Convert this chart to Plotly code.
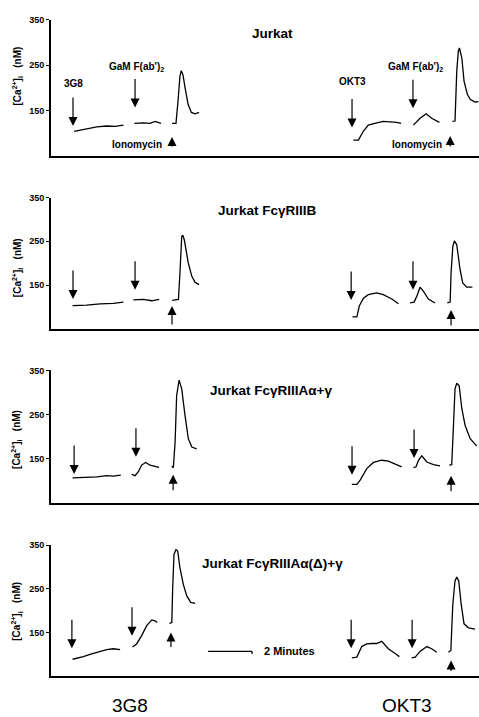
import plotly.graph_objects as go

# ---------------- data: time (min) and [Ca2+]i (nM); None separates recordings ----
N = None
p1_t = [1.05, 1.62, 2.08, 2.53, 2.91, 3.29, N,
        3.79, 4.20, 4.50, 4.73, 5.00, N,
        5.50, 5.68, 5.77, 5.86, 5.92, 6.00, 6.09, 6.23, 6.38, 6.55, 6.73, N,
        13.74, 13.97, 14.20, 14.42, 14.80, 15.10, 15.71, 15.91, N,
        16.47, 16.77, 17.05, 17.30, 17.65, N,
        18.24, 18.36, 18.44, 18.51, 18.56, 18.67, 18.77, 18.92, 19.05, 19.27, 19.42]
p1_ca = [104, 109, 114, 116, 115, 118, N,
         122, 123, 122, 126, 122, N,
         122, 122, 170, 226, 238, 228, 201, 164, 146, 143, 146, N,
         85, 85, 105, 118, 123, 126, 124, 122, N,
         118, 133, 143, 133, 124, N,
         126, 127, 237, 281, 288, 266, 215, 186, 175, 169, 170]

p2_t = [0.98, 1.62, 2.23, 2.83, 3.29, N,
        3.74, 4.20, 4.58, 4.92, N,
        5.51, 5.79, 5.86, 5.94, 5.99, 6.06, 6.24, 6.40, 6.55, 6.73, N,
        13.70, 13.90, 14.01, 14.20, 14.42, 14.80, 15.10, 15.49, 15.79, N,
        16.32, 16.50, 16.62, 16.77, 16.92, 17.15, 17.45, N,
        18.01, 18.14, 18.18, 18.26, 18.33, 18.44, 18.59, 18.71, 18.89, 19.15]
p2_ca = [103, 104, 107, 108, 111, N,
         116, 117, 114, 117, N,
         115, 117, 177, 261, 264, 253, 200, 170, 156, 151, N,
         77, 77, 102, 120, 128, 132, 128, 118, 107, N,
         109, 111, 124, 145, 136, 118, 109, N,
         109, 111, 177, 238, 251, 242, 185, 155, 145, 145]

p3_t = [0.98, 1.62, 2.08, 2.53, 2.83, 3.17, N,
        3.67, 3.82, 3.97, 4.12, 4.30, 4.50, 4.91, N,
        5.49, 5.56, 5.64, 5.71, 5.82, 5.94, 6.09, 6.24, 6.40, 6.62, N,
        13.67, 13.90, 14.05, 14.35, 14.65, 15.03, 15.33, 15.71, 15.94, N,
        16.47, 16.59, 16.70, 16.85, 17.08, 17.38, 17.68, N,
        18.10, 18.21, 18.29, 18.36, 18.44, 18.55, 18.67, 18.82, 19.05, 19.35]
p3_ca = [106, 107, 108, 111, 110, 112, N,
         114, 111, 120, 135, 141, 135, 130, N,
         133, 129, 188, 293, 328, 308, 248, 195, 176, 172, N,
         91, 91, 101, 127, 141, 146, 144, 136, 131, N,
         129, 131, 146, 156, 142, 136, 133, N,
         135, 136, 225, 308, 321, 315, 263, 225, 195, 178]

p4_t = [0.98, 1.24, 1.47, 1.77, 2.15, 2.53, 2.83, 3.14, N,
        3.70, 3.89, 4.12, 4.35, 4.58, 4.73, 4.83, N,
        5.38, 5.49, 5.53, 5.59, 5.68, 5.76, 5.86, 6.01, 6.17, 6.35, 6.55, N,
        13.67, 13.90, 14.12, 14.35, 14.58, 14.80, 15.03, 15.33, 15.64, 15.83, N,
        16.39, 16.55, 16.77, 17.08, 17.30, 17.53, N,
        18.06, 18.17, 18.26, 18.36, 18.44, 18.53, 18.64, 18.77, 18.97, 19.27]
p4_ca = [89, 92, 95, 100, 105, 111, 113, 111, N,
         117, 124, 143, 166, 179, 177, 173, N,
         171, 173, 253, 329, 340, 336, 298, 261, 234, 219, 217, N,
         92, 94, 118, 124, 125, 125, 130, 113, 102, 95, N,
         92, 94, 107, 118, 113, 105, N,
         105, 109, 215, 268, 277, 268, 215, 170, 161, 158]

panel_titles = ["Jurkat", "Jurkat FcγRIIIB", "Jurkat FcγRIIIAα+γ", "Jurkat FcγRIIIAα(Δ)+γ"]
y_ticks = [150, 250, 350]
y_range = [50, 350]
t_range = [0, 19.45]

# additions (3G8, GaM, ionomycin, OKT3, GaM, ionomycin): time and arrow-tip level
arrow_dir = ["down", "down", "up", "down", "down", "up"]
p1_arrow_t = [1.00, 3.82, 5.50, 13.68, 16.45, 18.14]
p1_arrow_ca = [116, 157, 92, 113, 155, 94]
p2_arrow_t = [1.00, 3.82, 5.50, 13.64, 16.45, 18.18]
p2_arrow_ca = [118, 139, 102, 116, 139, 93]
p3_arrow_t = [1.05, 3.86, 5.55, 13.68, 16.50, 18.18]
p3_arrow_ca = [115, 154, 113, 113, 151, 111]
p4_arrow_t = [0.95, 3.68, 5.45, 13.64, 16.41, 18.18]
p4_arrow_ca = [114, 143, 150, 114, 114, 86]

scale_bar_t = [7.14, 9.14]
scale_bar_ca = 107

# ---------------- layout ----------------
W, H = 479, 717
FONT = "Liberation Sans"
x_left_px = 51
panel_px = [(15, 152), (194, 326), (368, 501), (544, 676)]  # (350 line, baseline)
up_len = [[11, 12], [20, 17], [17, 17], [16, 12]]
ylabel_px = [72, 265, 438, 611]
title_pos = [(10.05, 319), (9.82, 320), (10.0, 305), (10.05, 309)]

series = [(p1_t, p1_ca), (p2_t, p2_ca), (p3_t, p3_ca), (p4_t, p4_ca)]
arrows = [(p1_arrow_t, p1_arrow_ca), (p2_arrow_t, p2_arrow_ca),
          (p3_arrow_t, p3_arrow_ca), (p4_arrow_t, p4_arrow_ca)]

fig = go.Figure()
annotations = []
shapes = []
lay = {}
for i, (t, ca) in enumerate(series):
    k = "" if i == 0 else str(i + 1)
    fig.add_trace(go.Scatter(x=t, y=ca, mode="lines", xaxis="x" + k, yaxis="y" + k,
                             line=dict(color="black", width=1.3), connectgaps=False,
                             showlegend=False, hoverinfo="skip"))
    top, bot = panel_px[i]
    lay["xaxis" + k] = dict(domain=[x_left_px / W, 1.0], range=t_range, anchor="y" + k,
                            showline=True, linecolor="black", linewidth=1.6,
                            showticklabels=False, ticks="", showgrid=False, zeroline=False)
    lay["yaxis" + k] = dict(domain=[(H - bot) / H, (H - top) / H], range=y_range,
                            anchor="x" + k, showline=True, linecolor="black", linewidth=1.6,
                            tickvals=y_ticks, ticks="outside", ticklen=3, tickwidth=1.2,
                            tickcolor="black",
                            tickfont=dict(family=FONT, size=9, color="black", weight="bold"),
                            showgrid=False, zeroline=False)
    xr, yr = "x" + k, "y" + k
    tx, ty = title_pos[i]
    annotations.append(dict(x=tx, y=ty, xref=xr, yref=yr, text=panel_titles[i],
                            showarrow=False, xanchor="center", yanchor="middle",
                            font=dict(family=FONT, size=13.5, color="black", weight="bold")))
    annotations.append(dict(x=17 / W, y=1 - ylabel_px[i] / H, xref="paper", yref="paper",
                            text="[Ca<sup>2+</sup>]<sub>i</sub>\u00a0\u00a0\u00a0(nM)",
                            textangle=-90, showarrow=False, xanchor="center",
                            yanchor="middle",
                            font=dict(family=FONT, size=10, color="black", weight="bold")))
    at, aca = arrows[i]
    ui = 0
    for j in range(6):
        if arrow_dir[j] == "down":
            ay = -30
        else:
            ay = up_len[i][ui]
            ui += 1
        annotations.append(dict(x=at[j], y=aca[j], xref=xr, yref=yr, text="",
                                showarrow=True, ax=0, ay=ay, arrowhead=2,
                                arrowsize=1.5, arrowwidth=1.2, arrowcolor="black"))

lab_font = dict(family=FONT, size=10, color="black", weight="bold")
for (x, y, txt) in [(1.0, 210, "3G8"), (3.9, 247, "GaM F(ab')<sub>2</sub>"),
                    (3.9, 76, "Ionomycin"), (13.68, 214, "OKT3"),
                    (16.55, 247, "GaM F(ab')<sub>2</sub>"), (16.64, 76, "Ionomycin")]:
    annotations.append(dict(x=x, y=y, xref="x", yref="y", text=txt, showarrow=False,
                            xanchor="center", yanchor="middle", font=lab_font))

shapes.append(dict(type="line", xref="x4", yref="y4", x0=scale_bar_t[0], x1=scale_bar_t[1],
                   y0=scale_bar_ca, y1=scale_bar_ca, line=dict(color="black", width=1.3)))
shapes.append(dict(type="line", xref="x4", yref="y4", x0=scale_bar_t[1], x1=scale_bar_t[1],
                   y0=scale_bar_ca, y1=scale_bar_ca - 6, line=dict(color="black", width=1.3)))
annotations.append(dict(x=scale_bar_t[1] + 0.45, y=scale_bar_ca, xref="x4", yref="y4",
                        text="2 Minutes", showarrow=False, xanchor="left",
                        yanchor="middle",
                        font=dict(family=FONT, size=11, color="black", weight="bold")))

for (px, txt) in [(130, "3G8"), (407, "OKT3")]:
    annotations.append(dict(x=px / W, y=0.0, xref="paper", yref="paper", text=txt,
                            showarrow=False, xanchor="center", yanchor="bottom",
                            borderpad=0,
                            font=dict(family=FONT, size=19, color="black")))

fig.update_layout(width=W, height=H, margin=dict(l=0, r=0, t=0, b=0),
                  paper_bgcolor="white", plot_bgcolor="white",
                  annotations=annotations, shapes=shapes, **lay)
fig.write_html("out.html", config={"displayModeBar": False},
               post_script="document.body.style.margin='0';document.body.style.overflow='hidden';")
